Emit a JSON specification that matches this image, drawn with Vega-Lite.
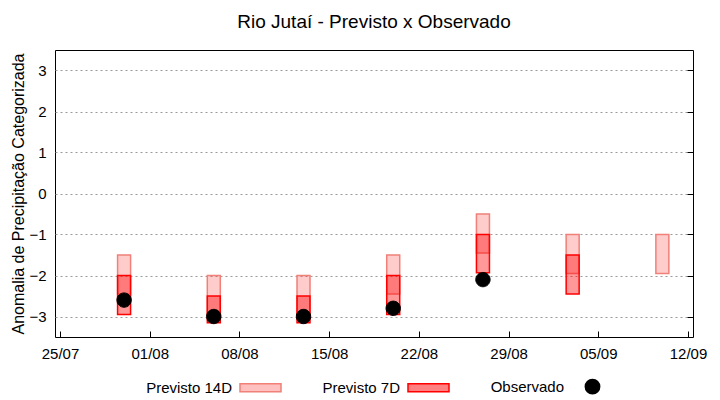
{
  "$schema": "https://vega.github.io/schema/vega-lite/v6.json",
  "width": 638,
  "height": 287,
  "autosize": {"type": "none"},
  "padding": {"left": 55, "top": 50, "right": 27, "bottom": 63},
  "background": "white",
  "config": {
    "font": "Liberation Sans",
    "view": {"stroke": "black", "strokeWidth": 1},
    "axis": {"labelColor": "black", "titleColor": "black", "labelFont": "Liberation Sans", "titleFont": "Liberation Sans"}
  },
  "title": {"text": "Rio Jutaí - Previsto x Observado", "fontSize": 19, "fontWeight": "normal", "color": "black", "offset": 18, "font": "Liberation Sans"},
  "datasets": {
    "bars": [
      {"data": "2024-07-30", "tipo": "Previsto 14D", "sup": -1.5, "inf": -2.45},
      {"data": "2024-08-06", "tipo": "Previsto 14D", "sup": -2.0, "inf": -2.95},
      {"data": "2024-08-13", "tipo": "Previsto 14D", "sup": -2.0, "inf": -2.95},
      {"data": "2024-08-20", "tipo": "Previsto 14D", "sup": -1.5, "inf": -2.45},
      {"data": "2024-08-27", "tipo": "Previsto 14D", "sup": -0.5, "inf": -1.45},
      {"data": "2024-09-03", "tipo": "Previsto 14D", "sup": -1.0, "inf": -1.95},
      {"data": "2024-09-10", "tipo": "Previsto 14D", "sup": -1.0, "inf": -1.95},
      {"data": "2024-07-30", "tipo": "Previsto 7D", "sup": -2.0, "inf": -2.95},
      {"data": "2024-08-06", "tipo": "Previsto 7D", "sup": -2.5, "inf": -3.15},
      {"data": "2024-08-13", "tipo": "Previsto 7D", "sup": -2.5, "inf": -3.15},
      {"data": "2024-08-20", "tipo": "Previsto 7D", "sup": -2.0, "inf": -2.95},
      {"data": "2024-08-27", "tipo": "Previsto 7D", "sup": -1.0, "inf": -1.93},
      {"data": "2024-09-03", "tipo": "Previsto 7D", "sup": -1.5, "inf": -2.45}
    ],
    "obs": [
      {"data": "2024-07-30", "tipo": "Observado", "valor": -2.6},
      {"data": "2024-08-06", "tipo": "Observado", "valor": -3.0},
      {"data": "2024-08-13", "tipo": "Observado", "valor": -3.0},
      {"data": "2024-08-20", "tipo": "Observado", "valor": -2.8},
      {"data": "2024-08-27", "tipo": "Observado", "valor": -2.1}
    ]
  },
  "resolve": {"axis": {"y": "independent"}},
  "encoding": {
    "x": {
      "field": "data", "type": "temporal",
      "scale": {"type": "utc", "domain": [{"year": 2024, "month": 7, "date": 25, "utc": true}, {"year": 2024, "month": 9, "date": 12, "utc": true}]},
      "axis": {
        "title": null, "format": "%d/%m",
        "values": [
          {"year": 2024, "month": 7, "date": 25, "utc": true},
          {"year": 2024, "month": 8, "date": 1, "utc": true},
          {"year": 2024, "month": 8, "date": 8, "utc": true},
          {"year": 2024, "month": 8, "date": 15, "utc": true},
          {"year": 2024, "month": 8, "date": 22, "utc": true},
          {"year": 2024, "month": 8, "date": 29, "utc": true},
          {"year": 2024, "month": 9, "date": 5, "utc": true},
          {"year": 2024, "month": 9, "date": 12, "utc": true}
        ],
        "labelFontSize": 15, "labelFlush": false, "labelOverlap": false, "domain": false, "grid": false,
        "ticks": true, "tickSize": -6, "tickColor": "black", "labelPadding": 15
      }
    }
  },
  "layer": [
    {
      "data": {"name": "bars"},
      "transform": [{"filter": "datum.tipo === 'Previsto 14D'"}],
      "mark": {"type": "bar", "size": 13, "fill": "#ff0000", "fillOpacity": 0.2, "stroke": "#f08078", "strokeWidth": 1.5},
      "encoding": {
        "y": {
          "field": "sup", "type": "quantitative",
          "scale": {"domain": [-3.5, 3.5], "nice": false, "zero": false},
          "axis": {
            "title": "Anomalia de Precipitação Categorizada", "titleFontSize": 16, "titleFontWeight": "normal", "titlePadding": 2,
            "values": [-3, -2, -1, 0, 1, 2, 3], "labelFontSize": 15, "labelPadding": 9, "ticks": false, "domain": false,
            "grid": true, "gridDash": [2, 3], "gridColor": "#9a9a9a", "gridWidth": 1
          }
        },
        "y2": {"field": "inf"}
      }
    },
    {
      "data": {"name": "bars"},
      "transform": [{"filter": "datum.tipo === 'Previsto 7D'"}],
      "mark": {"type": "bar", "size": 13, "fill": "#ff0000", "fillOpacity": 0.4, "stroke": "#ff0000", "strokeWidth": 1.5},
      "encoding": {
        "y": {
          "field": "sup", "type": "quantitative",
          "axis": {"orient": "right", "title": null, "labels": false, "ticks": true, "tickSize": -6, "tickColor": "black", "domain": false, "grid": false, "values": [-3, -2, -1, 0, 1, 2, 3]}
        },
        "y2": {"field": "inf"}
      }
    },
    {
      "data": {"name": "obs"},
      "mark": {"type": "point", "filled": true, "opacity": 1, "strokeWidth": 1},
      "encoding": {
        "y": {"field": "valor", "type": "quantitative", "axis": null},
        "color": {
          "field": "tipo", "type": "nominal",
          "scale": {"domain": ["Previsto 14D", "Previsto 7D", "Observado"], "range": ["#ffc0c0", "#ff8080", "#000000"]},
          "legend": {
            "title": null, "orient": "none", "legendX": 184, "legendY": 315, "direction": "horizontal", "labelFontSize": 15, "labelColor": "black",
            "labelAlign": "right", "labelOffset": -50, "symbolOffset": 0, "columnPadding": 38, "symbolStrokeWidth": 1.5
          }
        },
        "shape": {
          "field": "tipo", "type": "nominal",
          "scale": {"domain": ["Previsto 14D", "Previsto 7D", "Observado"], "range": ["M-1,-0.2H1V0.2H-1Z", "M-1,-0.2H1V0.2H-1Z", "M-0.35,0A0.35,0.35 0 1,0 0.35,0A0.35,0.35 0 1,0 -0.35,0Z"]}
        },
        "size": {
          "field": "tipo", "type": "nominal",
          "scale": {"type": "ordinal", "domain": ["Previsto 14D", "Previsto 7D", "Observado"], "range": [1681, 1681, 1681]}
        },
        "stroke": {
          "field": "tipo", "type": "nominal",
          "scale": {"domain": ["Previsto 14D", "Previsto 7D", "Observado"], "range": ["#f08078", "#ff0000", "#000000"]}
        }
      }
    }
  ]
}
